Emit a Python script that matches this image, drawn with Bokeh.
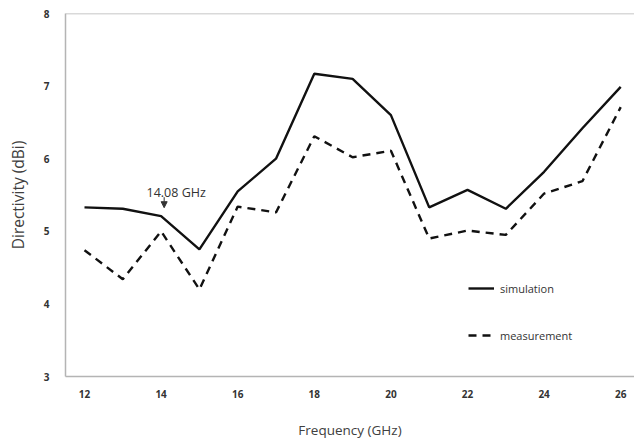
from bokeh.plotting import figure
from bokeh.models import (Legend, LegendItem, Label, Arrow, NormalHead, Span,
                          FixedTicker, Range1d)
from bokeh.embed import file_html
from bokeh.resources import INLINE

# ---- data ----
freq = [12, 13, 14, 15, 16, 17, 18, 19, 20, 21, 22, 23, 24, 25, 26]
simulation = [5.33, 5.31, 5.21, 4.75, 5.55, 6.0, 7.17, 7.10, 6.60, 5.33, 5.57, 5.31, 5.82, 6.42, 6.99]
measurement = [4.74, 4.34, 5.0, 4.20, 5.34, 5.26, 6.31, 6.02, 6.11, 4.90, 5.01, 4.95, 5.52, 5.69, 6.71]
x_ticks = [12, 14, 16, 18, 20, 22, 24, 26]
y_ticks = [3, 4, 5, 6, 7, 8]
marker_freq = 14.08
marker_text = "14.08 GHz"

FONT = "Open Sans"
GRID = "#b4b4b4"

p = figure(width=634, height=441, output_backend="svg", toolbar_location=None,
           x_range=Range1d(11.504, 26.36), y_range=Range1d(3, 8),
           min_border_left=65, min_border_top=13, min_border_bottom=60, min_border_right=0)
p.outline_line_color = None
p.xgrid.grid_line_color = None
p.ygrid.grid_line_color = None
p.background_fill_color = "white"
p.border_fill_color = "white"

p.add_layout(Span(location=8, dimension="width", line_color=GRID, line_width=1.5))

for ax in (p.xaxis[0], p.yaxis[0]):
    ax.axis_line_color = GRID
    ax.axis_line_width = 1.5
    ax.major_tick_line_color = None
    ax.minor_tick_line_color = None
    ax.major_label_text_font = FONT
    ax.major_label_text_font_style = "bold"
    ax.major_label_text_font_size = "10px"
    ax.major_label_text_color = "#333333"
    ax.axis_label_text_font = FONT
    ax.axis_label_text_font_style = "normal"
    ax.axis_label_text_color = "#404040"

p.xaxis.axis_label_text_font_size = "13.5px"
p.yaxis.axis_label_text_font_size = "15.5px"
p.xaxis.ticker = FixedTicker(ticks=x_ticks)
p.yaxis.ticker = FixedTicker(ticks=y_ticks)
p.xaxis.major_label_standoff = 7
p.yaxis.major_label_standoff = 10
p.xaxis.axis_label = "Frequency (GHz)"
p.yaxis.axis_label = "Directivity (dBi)"
p.xaxis.axis_label_standoff = 20
p.yaxis.axis_label_standoff = 12

r_sim = p.line(freq, simulation, line_color="#111111", line_width=2.4)
r_meas = p.line(freq, measurement, line_color="#111111", line_width=2.4, line_dash="8 6")

legend = Legend(items=[LegendItem(label="simulation", renderers=[r_sim]),
                       LegendItem(label="measurement", renderers=[r_meas])],
                location=(403, 31), orientation="vertical")
legend.glyph_width = 26
legend.glyph_height = 20
legend.label_height = 20
legend.spacing = 27
legend.padding = 0
legend.margin = 0
legend.label_standoff = 6
legend.border_line_color = None
legend.background_fill_alpha = 0
legend.label_text_font = FONT
legend.label_text_font_size = "11px"
legend.label_text_color = "#333333"
p.add_layout(legend)

p.add_layout(Label(x=marker_freq, y=5.53, text=marker_text, text_align="center",
                   text_baseline="middle", x_offset=12, text_font=FONT,
                   text_font_size="12.5px", text_color="#333333"))
p.add_layout(Arrow(x_start=marker_freq, y_start=5.47, x_end=marker_freq, y_end=5.325,
                   line_color="#333333", line_width=1,
                   end=NormalHead(size=6, fill_color="#333333", line_color="#333333")))

open("out.html", "w").write(file_html(p, INLINE))
